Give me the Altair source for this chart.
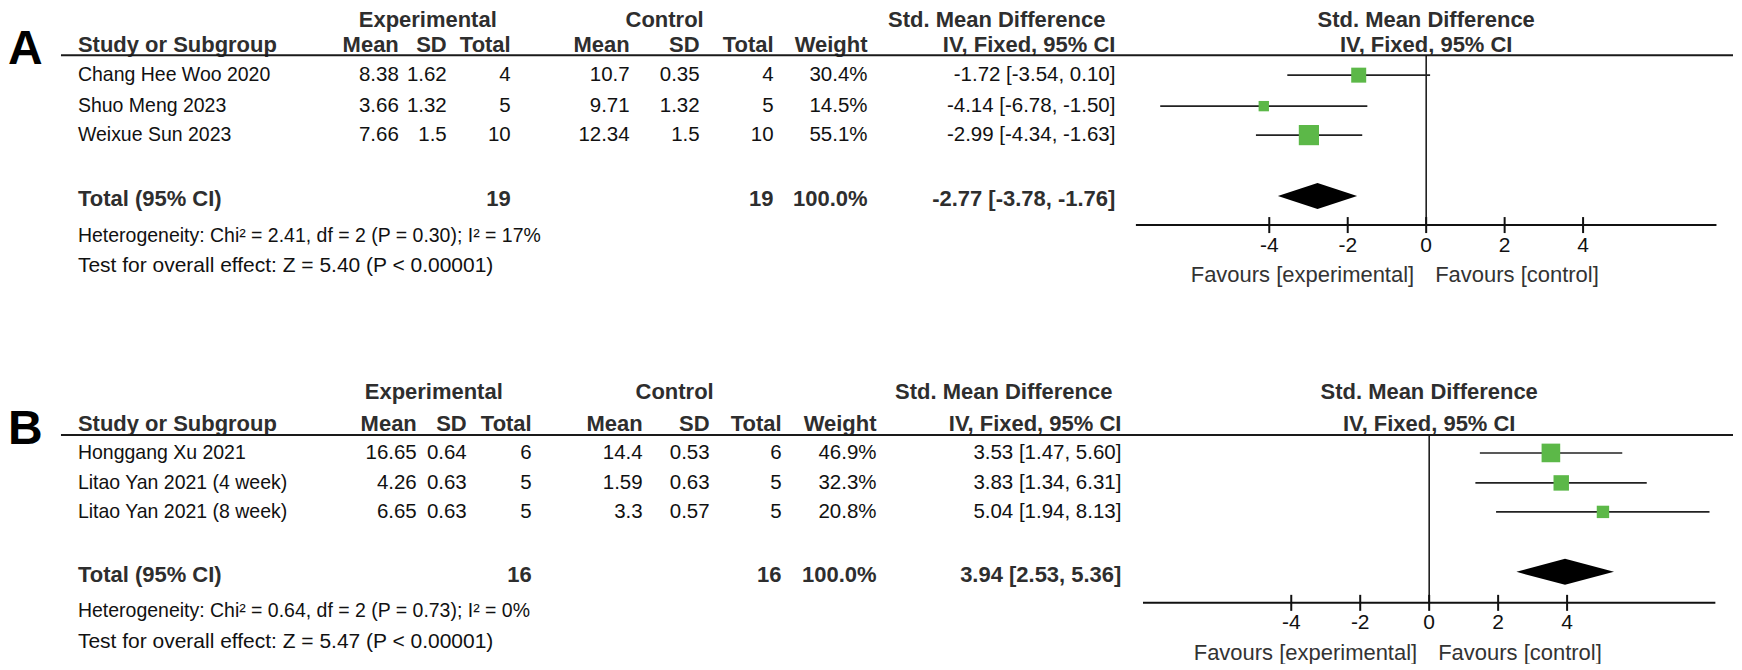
import altair as alt
import pandas as pd

FONT = "Liberation Sans, Arial, sans-serif"
GREEN = "#5cb848"
INK = "#111111"
HEAD = "#2e2e2e"

# ---------------- Panel A data ----------------
A_STUDIES = ["Chang Hee Woo 2020", "Shuo Meng 2023", "Weixue Sun 2023"]
A_EXP_MEAN = [8.38, 3.66, 7.66]
A_EXP_SD = [1.62, 1.32, 1.5]
A_EXP_N = [4, 5, 10]
A_CTL_MEAN = [10.7, 9.71, 12.34]
A_CTL_SD = [0.35, 1.32, 1.5]
A_CTL_N = [4, 5, 10]
A_WEIGHT = [30.4, 14.5, 55.1]
A_SMD = [-1.72, -4.14, -2.99]
A_LO = [-3.54, -6.78, -4.34]
A_HI = [0.10, -1.50, -1.63]
A_TOTAL_N = [19, 19]
A_TOTAL_W = 100.0
A_POOLED = [-2.77, -3.78, -1.76]
A_HET = "Heterogeneity: Chi\u00b2 = 2.41, df = 2 (P = 0.30); I\u00b2 = 17%"
A_TEST = "Test for overall effect: Z = 5.40 (P < 0.00001)"

# ---------------- Panel B data ----------------
B_STUDIES = ["Honggang Xu 2021", "Litao Yan 2021 (4 week)", "Litao Yan 2021 (8 week)"]
B_EXP_MEAN = [16.65, 4.26, 6.65]
B_EXP_SD = [0.64, 0.63, 0.63]
B_EXP_N = [6, 5, 5]
B_CTL_MEAN = [14.4, 1.59, 3.3]
B_CTL_SD = [0.53, 0.63, 0.57]
B_CTL_N = [6, 5, 5]
B_WEIGHT = [46.9, 32.3, 20.8]
B_SMD = [3.53, 3.83, 5.04]
B_LO = [1.47, 1.34, 1.94]
B_HI = [5.60, 6.31, 8.13]
B_TOTAL_N = [16, 16]
B_TOTAL_W = 100.0
B_POOLED = [3.94, 2.53, 5.36]
B_HET = "Heterogeneity: Chi\u00b2 = 0.64, df = 2 (P = 0.73); I\u00b2 = 0%"
B_TEST = "Test for overall effect: Z = 5.47 (P < 0.00001)"

TICKS = [-4, -2, 0, 2, 4]
COL_HEADERS = ["Mean", "SD", "Total", "Mean", "SD", "Total", "Weight", "IV, Fixed, 95% CI"]

# ---------------- layout (page pixels) ----------------
LAYOUT_A = dict(top=8, height=330, letter="A", letter_y=50,
                hdr1=19.5, hdr2=45, line=55, rows=[75, 106, 135], total=199, dia=196,
                het=236, test=266, axis=225, ticklab=246, fav=275,
                cols=[399, 447, 511, 630, 700, 774, 868, 1116],
                exp_c=428, ctl_c=665, smd_r=1106,
                zero=1427, unit=39.25, dom=7.4)
LAYOUT_B = dict(top=338, height=326, letter="B", letter_y=430,
                hdr1=392, hdr2=424, line=435, rows=[453, 483, 512], total=575, dia=572,
                het=611, test=642, axis=603, ticklab=623, fav=653,
                cols=[417, 467, 532, 643, 710, 782, 877, 1122],
                exp_c=434, ctl_c=675, smd_r=1113,
                zero=1430, unit=34.5, dom=8.3)

W = 1726
NUM = 20.5    # numeric cells
NAME = 19.5   # study names
HET = 19.5
TEST = 21
BOLD = 22


def g(v):
    return f"{v:g}"


def ci(s, l, h):
    return f"{s:.2f} [{l:.2f}, {h:.2f}]"


def text_layer(recs, align, bold=False, size=NUM, color=INK):
    df = pd.DataFrame(recs, columns=["t", "x", "y"])
    return alt.Chart(df).mark_text(
        align=align, baseline="middle", fontSize=size, font=FONT,
        fontWeight="bold" if bold else "normal", color=color
    ).encode(
        x=alt.X("x:Q", scale=None, axis=None),
        y=alt.Y("y:Q", scale=None, axis=None),
        text="t:N",
    )


def panel(L, studies, em, esd, en, cm, csd, cn, w, smd, lo, hi, tot_n, tot_w, pooled, het, test):
    ox, oy = 8, L["top"]
    X = lambda v: v - ox
    Y = lambda v: v - oy
    c = [X(v) for v in L["cols"]]
    rows = [Y(v) for v in L["rows"]]

    names, right_reg, right_bold, left_bold, center_bold = [], [], [], [], []
    left_bold.append(("Study or Subgroup", X(78), Y(L["hdr2"])))
    for j, h in enumerate(COL_HEADERS):
        right_bold.append((h, c[j], Y(L["hdr2"])))
    center_bold.append(("Experimental", X(L["exp_c"]), Y(L["hdr1"])))
    center_bold.append(("Control", X(L["ctl_c"]), Y(L["hdr1"])))
    right_bold.append(("Std. Mean Difference", X(L["smd_r"]), Y(L["hdr1"])))
    for i, name in enumerate(studies):
        y = rows[i]
        names.append((name, X(78), y))
        vals = [g(em[i]), g(esd[i]), g(en[i]), g(cm[i]), g(csd[i]), g(cn[i]),
                f"{w[i]:.1f}%", ci(smd[i], lo[i], hi[i])]
        for j, v in enumerate(vals):
            right_reg.append((v, c[j], y))
    yt = Y(L["total"])
    left_bold.append(("Total (95% CI)", X(78), yt))
    right_bold.append((g(tot_n[0]), c[2], yt))
    right_bold.append((g(tot_n[1]), c[5], yt))
    right_bold.append((f"{tot_w:.1f}%", c[6], yt))
    right_bold.append((ci(*pooled), c[7], yt))

    layers = [
        text_layer(names, "left", size=NAME),
        text_layer([(het, X(78), Y(L["het"]))], "left", size=HET),
        text_layer([(test, X(78), Y(L["test"]))], "left", size=TEST),
        text_layer(right_reg, "right", size=NUM),
        text_layer(right_bold, "right", bold=True, size=BOLD, color=HEAD),
        text_layer(left_bold, "left", bold=True, size=BOLD, color=HEAD),
        text_layer(center_bold, "center", bold=True, size=BOLD, color=HEAD),
        text_layer([(L["letter"], 0, Y(L["letter_y"]))], "left", bold=True, size=48, color="#000"),
    ]

    # header underline
    layers.append(alt.Chart(pd.DataFrame({"a": [0]})).mark_rule(color="#1a1a1a", strokeWidth=2).encode(
        x=alt.value(X(61)), x2=alt.value(W), y=alt.value(Y(L["line"]))))

    dom = L["dom"]
    xs = alt.Scale(domain=[-dom, dom],
                   range=[X(L["zero"] - dom * L["unit"]), X(L["zero"] + dom * L["unit"])],
                   nice=False, zero=False)

    # zero line
    layers.append(alt.Chart(pd.DataFrame({"v": [0]})).mark_rule(color="#111", strokeWidth=1.5).encode(
        x=alt.X("v:Q", scale=xs, axis=None), y=alt.value(Y(L["line"])), y2=alt.value(Y(L["axis"]))))
    # axis line
    layers.append(alt.Chart(pd.DataFrame({"a": [-dom], "b": [dom]})).mark_rule(color="#111", strokeWidth=2).encode(
        x=alt.X("a:Q", scale=xs, axis=None), x2="b:Q", y=alt.value(Y(L["axis"]))))
    # ticks
    tdf = pd.DataFrame({"t": TICKS, "lab": [g(t) for t in TICKS]})
    layers.append(alt.Chart(tdf).mark_rule(color="#111", strokeWidth=2).encode(
        x=alt.X("t:Q", scale=xs, axis=None), y=alt.value(Y(L["axis"]) - 8), y2=alt.value(Y(L["axis"]) + 8)))
    layers.append(alt.Chart(tdf).mark_text(baseline="middle", align="center", fontSize=21, font=FONT, color=INK).encode(
        x=alt.X("t:Q", scale=xs, axis=None), y=alt.value(Y(L["ticklab"])), text="lab:N"))
    # favours labels
    zdf = pd.DataFrame({"v": [0]})
    layers.append(alt.Chart(zdf).mark_text(baseline="middle", align="right", dx=-12, fontSize=22, font=FONT, color="#333").encode(
        x=alt.X("v:Q", scale=xs, axis=None), y=alt.value(Y(L["fav"])), text=alt.value("Favours [experimental]")))
    layers.append(alt.Chart(zdf).mark_text(baseline="middle", align="left", dx=9, fontSize=22, font=FONT, color="#333").encode(
        x=alt.X("v:Q", scale=xs, axis=None), y=alt.value(Y(L["fav"])), text=alt.value("Favours [control]")))
    # plot headers
    layers.append(alt.Chart(zdf).mark_text(baseline="middle", align="center", fontSize=22, font=FONT, fontWeight="bold", color=HEAD).encode(
        x=alt.X("v:Q", scale=xs, axis=None), y=alt.value(Y(L["hdr1"])), text=alt.value("Std. Mean Difference")))
    layers.append(alt.Chart(zdf).mark_text(baseline="middle", align="center", fontSize=22, font=FONT, fontWeight="bold", color=HEAD).encode(
        x=alt.X("v:Q", scale=xs, axis=None), y=alt.value(Y(L["hdr2"])), text=alt.value("IV, Fixed, 95% CI")))

    # study CIs and squares
    sdf = pd.DataFrame({"smd": smd, "lo": lo, "hi": hi, "w": w, "y": rows})
    layers.append(alt.Chart(sdf).mark_rule(color="#222", strokeWidth=1.6).encode(
        x=alt.X("lo:Q", scale=xs, axis=None), x2="hi:Q", y=alt.Y("y:Q", scale=None, axis=None)))
    layers.append(alt.Chart(sdf).mark_square(color=GREEN, opacity=1).encode(
        x=alt.X("smd:Q", scale=xs, axis=None), y=alt.Y("y:Q", scale=None, axis=None),
        size=alt.Size("w:Q", scale=alt.Scale(domain=[0, 100], range=[0, 740]), legend=None)))
    # pooled diamond
    yd = Y(L["dia"])
    ddf = pd.DataFrame({"x": [pooled[1], pooled[0], pooled[2]],
                        "ya": [yd, yd - 13, yd], "yb": [yd, yd + 13, yd]})
    layers.append(alt.Chart(ddf).mark_area(color="#000", opacity=1).encode(
        x=alt.X("x:Q", scale=xs, axis=None), y=alt.Y("ya:Q", scale=None, axis=None), y2="yb:Q"))

    return alt.layer(*layers).resolve_scale(x="independent").properties(width=W, height=L["height"])


chart_a = panel(LAYOUT_A, A_STUDIES, A_EXP_MEAN, A_EXP_SD, A_EXP_N, A_CTL_MEAN, A_CTL_SD, A_CTL_N,
                A_WEIGHT, A_SMD, A_LO, A_HI, A_TOTAL_N, A_TOTAL_W, A_POOLED, A_HET, A_TEST)
chart_b = panel(LAYOUT_B, B_STUDIES, B_EXP_MEAN, B_EXP_SD, B_EXP_N, B_CTL_MEAN, B_CTL_SD, B_CTL_N,
                B_WEIGHT, B_SMD, B_LO, B_HI, B_TOTAL_N, B_TOTAL_W, B_POOLED, B_HET, B_TEST)

chart = alt.vconcat(chart_a, chart_b, spacing=0).properties(padding=0, background="white").configure_view(stroke=None)

chart.save("out.html", embed_options={"renderer": "svg", "actions": False})
